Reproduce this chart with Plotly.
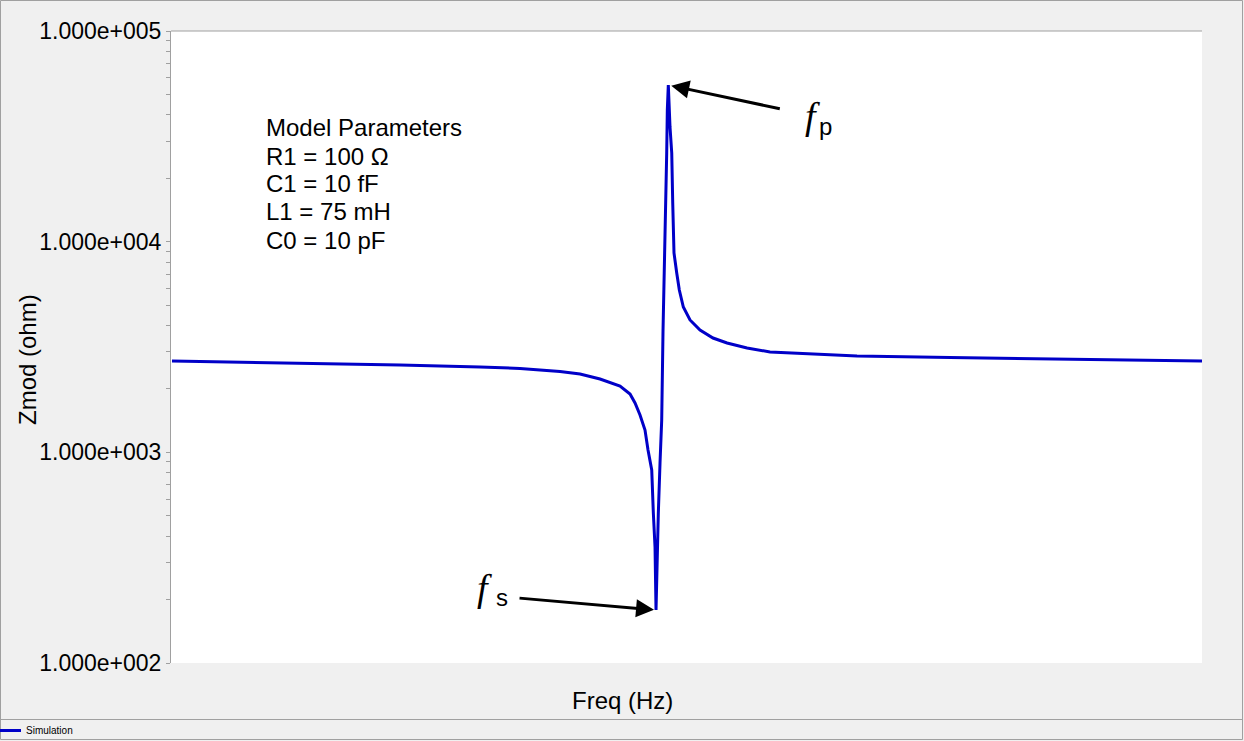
import math
import plotly.graph_objects as go

# ---- data ----
freq_mhz = [5.70024, 5.73128, 5.75553, 5.77493, 5.78463, 5.79433, 5.79918, 5.80403,
            5.80888, 5.81131, 5.81252, 5.81373, 5.81494, 5.81567, 5.81657, 5.81696,
            5.81737, 5.81761, 5.81793, 5.81817, 5.81858, 5.81899, 5.81931, 5.81955,
            5.81979, 5.82003, 5.82020, 5.82035, 5.82059, 5.82100, 5.82142, 5.82166,
            5.82197, 5.82263, 5.82326, 5.82423, 5.82585, 5.82828, 5.83143, 5.83483,
            5.83968, 5.84525, 5.85495, 5.86635, 5.88890, 5.91315, 5.95000]
zmod_ohm = [2714, 2656, 2598, 2542, 2500, 2419, 2354, 2229,
            2065, 1892, 1715, 1504, 1276, 1026, 824.5, 515,
            355, 178.5, 355, 515, 890, 1424, 3808, 6093,
            9856, 15770, 26350, 42170, 55410, 35030, 26350, 15260,
            8836, 7099, 5897, 4897, 4249, 3808, 3488, 3304,
            3128, 2995, 2930, 2866, 2819, 2774, 2714]

y_tick_vals = [100, 1000, 10000, 100000]
y_tick_text = ["1.000e+002", "1.000e+003", "1.000e+004", "1.000e+005"]

param_lines = ["Model Parameters", "R1 = 100 \u03a9", "C1 = 10 fF", "L1 = 75 mH", "C0 = 10 pF"]
series_name = "Simulation"
x_title = "Freq (Hz)"
y_title = "Zmod (ohm)"

# ---- layout geometry (pixels) ----
W, H = 1244, 741
L, R, T, B = 171, 1202, 31, 663
PW, PH = R - L, B - T

def px2x(px):
    return (px - L) / PW

def py2y(py):
    return (B - py) / PH

GRAY = "#a0a0a0"
BLUE = "rgb(0,0,200)"
FONT = "Liberation Sans, Arial, sans-serif"
SERIF = "Liberation Serif"

minor_vals = [m * 10 ** d for d in range(2, 5) for m in range(2, 10)]

fig = go.Figure()
fig.add_trace(go.Scatter(x=freq_mhz, y=zmod_ohm, mode="lines", name=series_name,
                         line=dict(color=BLUE, width=3), showlegend=True))

fig.update_layout(
    width=W, height=H,
    margin=dict(l=L, r=W - R, t=T, b=H - B, pad=0, autoexpand=False),
    paper_bgcolor="#f0f0f0", plot_bgcolor="white",
    font=dict(family=FONT, color="black"),
    showlegend=True,
    legend=dict(xref="paper", yref="paper", x=px2x(-14), y=py2y(745),
                xanchor="left", yanchor="bottom", bgcolor="rgba(0,0,0,0)",
                font=dict(size=10, family=FONT), itemwidth=30,
                tracegroupgap=0),
    xaxis=dict(range=[5.70, 5.95], showgrid=False, zeroline=False, automargin=False,
               showticklabels=False, ticks="", showline=False),
    yaxis=dict(type="log", range=[2, 5], showgrid=False, zeroline=False, automargin=False,
               tickvals=y_tick_vals, ticktext=y_tick_text,
               ticks="outside", ticklen=4, tickcolor=GRAY, tickwidth=1,
               tickfont=dict(size=23),
               showline=True, linecolor=GRAY, linewidth=1,
               minor=dict(tickvals=minor_vals, ticks="outside", ticklen=4,
                          tickcolor=GRAY, tickwidth=1, showgrid=False)),
)

shapes = [
    # top border of plot area
    dict(type="line", xref="paper", yref="paper", x0=0, x1=1, y0=1, y1=1,
         line=dict(color=GRAY, width=1)),
    # outer frame
    dict(type="rect", xref="paper", yref="paper",
         x0=px2x(0.5), x1=px2x(1242.5), y0=py2y(739.5), y1=py2y(0.5),
         line=dict(color=GRAY, width=1)),
    # legend separator
    dict(type="line", xref="paper", yref="paper",
         x0=px2x(0.5), x1=px2x(1242.5), y0=py2y(719.5), y1=py2y(719.5),
         line=dict(color=GRAY, width=1)),
]
fig.update_layout(shapes=shapes)

# axis titles (centred like the reference)
fig.add_annotation(text=x_title, xref="paper", yref="paper", x=px2x(622), y=py2y(700),
                   xanchor="center", yanchor="middle", showarrow=False,
                   font=dict(size=24, family=FONT, color="black"))
fig.add_annotation(text=y_title, xref="paper", yref="paper", x=px2x(27), y=py2y(360),
                   xanchor="center", yanchor="middle", showarrow=False, textangle=-90,
                   font=dict(size=24, family=FONT, color="black"))

# model parameter text
line_py = [127, 156, 184, 212, 240]
for txt, py in zip(param_lines, line_py):
    fig.add_annotation(text=txt, xref="paper", yref="paper", x=px2x(264), y=py2y(py),
                       xanchor="left", yanchor="middle", showarrow=False,
                       font=dict(size=24, family=FONT, color="black"))

# arrows to fs (minimum) and fp (peak)
i_min = zmod_ohm.index(min(zmod_ohm))
i_max = zmod_ohm.index(max(zmod_ohm))
fig.add_annotation(x=freq_mhz[i_min], y=math.log10(zmod_ohm[i_min]), xref="x", yref="y",
                   text="", showarrow=True, arrowhead=2, arrowsize=1.2, arrowwidth=3,
                   arrowcolor="black", ax=-138, ay=-12, standoff=2)
fig.add_annotation(x=freq_mhz[i_max], y=math.log10(zmod_ohm[i_max]), xref="x", yref="y",
                   text="", showarrow=True, arrowhead=2, arrowsize=1.2, arrowwidth=3,
                   arrowcolor="black", ax=113, ay=24, standoff=3)

# f_s and f_p labels
for fx, fy, sub, sx, sy in [(484, 588, "s", 502, 597), (812, 116, "p", 825, 126)]:
    fig.add_annotation(text="<i>f</i>", xref="paper", yref="paper", x=px2x(fx), y=py2y(fy),
                       xanchor="center", yanchor="middle", showarrow=False,
                       font=dict(size=38, family=SERIF, color="black"))
    fig.add_annotation(text=sub, xref="paper", yref="paper", x=px2x(sx), y=py2y(sy),
                       xanchor="center", yanchor="middle", showarrow=False,
                       font=dict(size=24, family=FONT, color="black"))

fig.write_html("out.html", config={"displayModeBar": False},
               post_script="document.body.style.margin='0';document.body.style.overflow='hidden';")
